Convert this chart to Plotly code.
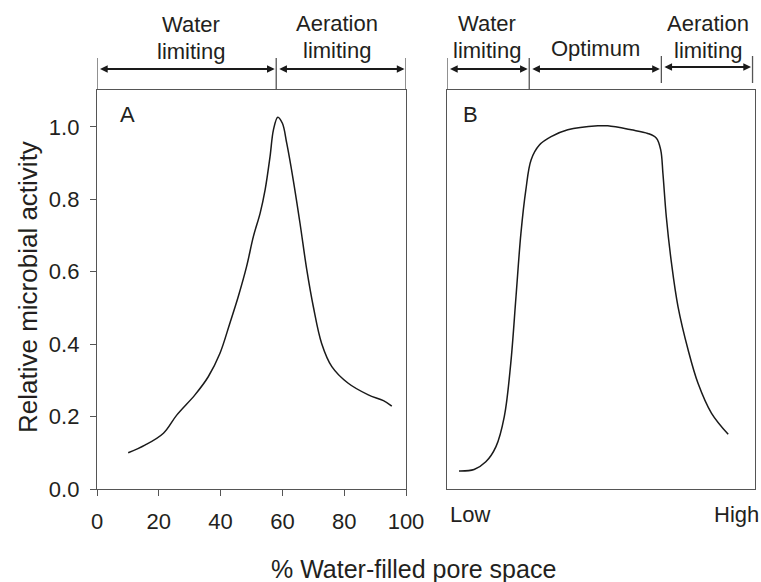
import plotly.graph_objects as go

# ---- data ----
a_x = [10.1, 15.5, 21.5, 25.8, 31.7, 36.0, 39.8, 43.0, 45.7, 48.4, 50.6, 52.8, 54.4, 56.0, 57.1,
       58.5, 60.0, 61.4, 63.5, 65.7, 67.9, 70.0, 72.7, 76.0, 81.3, 87.8, 92.7, 95.4]
a_y = [0.100, 0.121, 0.154, 0.204, 0.260, 0.310, 0.375, 0.458, 0.531, 0.614, 0.697, 0.762, 0.826,
       0.918, 0.992, 1.027, 1.010, 0.955, 0.854, 0.734, 0.605, 0.504, 0.402, 0.338, 0.292, 0.260,
       0.244, 0.229]

b_x = [3.9, 8.8, 12.6, 15.9, 18.6, 20.7, 22.4, 24.0, 25.6, 27.3, 30.0, 33.8, 39.2, 49.0, 52.2,
       59.8, 65.2, 68.0, 69.4, 70.1, 71.2, 72.9, 75.0, 78.3, 81.5, 85.9, 91.3]
b_y = [0.050, 0.054, 0.075, 0.117, 0.200, 0.347, 0.531, 0.706, 0.826, 0.909, 0.950, 0.973, 0.992,
       1.003, 1.003, 0.992, 0.982, 0.969, 0.936, 0.872, 0.752, 0.623, 0.504, 0.384, 0.292, 0.209,
       0.151]

a_ticks = [0, 20, 40, 60, 80, 100]
y_ticks = [0.0, 0.2, 0.4, 0.6, 0.8, 1.0]

a_zones = [0, 58, 100]
b_zones = [0, 26.7, 69.6, 99.2]
a_zone_labels = [["Water", "limiting"], ["Aeration", "limiting"]]
b_zone_labels = [["Water", "limiting"], ["Optimum"], ["Aeration", "limiting"]]

# ---- layout helpers ----
W, H = 761, 582
def X(px):
    return px / W
def Y(py):
    return 1 - py / H

FONT = "Liberation Sans, Arial, sans-serif"
TXT = "#231f20"
FRAME = "#555555"

fig = go.Figure()
fig.add_trace(go.Scatter(x=a_x, y=a_y, mode="lines", line=dict(color="#1a1a1a", width=1.5, shape="spline"),
                         xaxis="x", yaxis="y", showlegend=False, hoverinfo="skip"))
fig.add_trace(go.Scatter(x=b_x, y=b_y, mode="lines", line=dict(color="#1a1a1a", width=1.5, shape="spline"),
                         xaxis="x2", yaxis="y2", showlegend=False, hoverinfo="skip"))

yrange = [0, 1.102]
common = dict(showline=True, linecolor=FRAME, linewidth=1.3, mirror=True, showgrid=False, zeroline=False,
              automargin=False)

fig.update_layout(
    width=W, height=H,
    margin=dict(l=0, r=0, t=0, b=0),
    paper_bgcolor="white", plot_bgcolor="white",
    font=dict(family=FONT, color=TXT),
    xaxis=dict(domain=[X(97), X(406)], range=[0, 100], tickvals=a_ticks, ticks="outside", ticklen=6,
               tickcolor=FRAME, tickwidth=1.3, tickfont=dict(size=22, color=TXT), ticklabelstandoff=6,
               anchor="y", **common),
    yaxis=dict(domain=[Y(489), Y(90)], range=yrange, tickvals=y_ticks, tickformat=".1f", ticks="outside",
               ticklen=6, tickcolor=FRAME, tickwidth=1.3, tickfont=dict(size=22, color=TXT),
               ticklabelstandoff=6, anchor="x", **common),
    xaxis2=dict(domain=[X(447), X(755)], range=[0, 100], showticklabels=False, ticks="", anchor="y2", **common),
    yaxis2=dict(domain=[Y(489), Y(90)], range=yrange, showticklabels=False, ticks="", anchor="x2", **common),
)

ann = []
def label(text, px, py, size=22, xanchor="center", angle=0):
    ann.append(dict(text=text, x=X(px), y=Y(py), xref="paper", yref="paper", showarrow=False,
                    xanchor=xanchor, yanchor="middle", textangle=angle,
                    font=dict(size=size, color=TXT, family=FONT)))

# panel letters
label("A", 127, 115)
label("B", 471, 115)
# B axis end labels
label("Low", 448, 514, xanchor="left")
label("High", 761, 514, xanchor="right")
# axis titles
label("Relative microbial activity", 28, 287, size=26, angle=-90)
label("% Water-filled pore space", 413, 569, size=25)

# zone labels
a_centers = [191, 337]
for c, lines in zip(a_centers, a_zone_labels):
    tops = [25, 51] if lines[0] == "Water" else [24, 50]
    for ln, py in zip(lines, tops):
        label(ln, c, py)
b_centers = [487, 595, 708]
for c, lines in zip(b_centers, b_zone_labels):
    if len(lines) == 1:
        label(lines[0], c, 48)
    else:
        for ln, py in zip(lines, [24, 50]):
            label(ln, c, py)

# bracket arrows
def bracket(xref, x0, x1, py):
    ann.append(dict(x=x1, y=Y(py), ax=x0, ay=0, xref=xref, yref="paper", axref=xref, ayref="pixel",
                    text="", showarrow=True, arrowside="end+start", arrowhead=2, startarrowhead=2,
                    arrowsize=0.7, startarrowsize=0.7, arrowwidth=2.2, arrowcolor="#1a1a1a",
                    standoff=1.5, startstandoff=1.5))

for i in range(len(a_zones) - 1):
    bracket("x", a_zones[i], a_zones[i + 1], 69)
for i in range(len(b_zones) - 1):
    bracket("x2", b_zones[i], b_zones[i + 1], 69 if i < 2 else 67)

shapes = []
def vline(xref, xv, py0, py1):
    shapes.append(dict(type="line", xref=xref, yref="paper", x0=xv, x1=xv, y0=Y(py0), y1=Y(py1),
                       line=dict(color=FRAME, width=1.3)))
for xv in a_zones:
    vline("x", xv, 58, 90)
for i, xv in enumerate(b_zones):
    if i < 2:
        vline("x2", xv, 58, 90)
    else:
        vline("x2", xv, 56, 83)

fig.update_layout(annotations=ann, shapes=shapes)
fig.write_html("out.html", config={"displayModeBar": False},
               post_script="document.body.style.margin='0';document.body.style.overflow='hidden';")
